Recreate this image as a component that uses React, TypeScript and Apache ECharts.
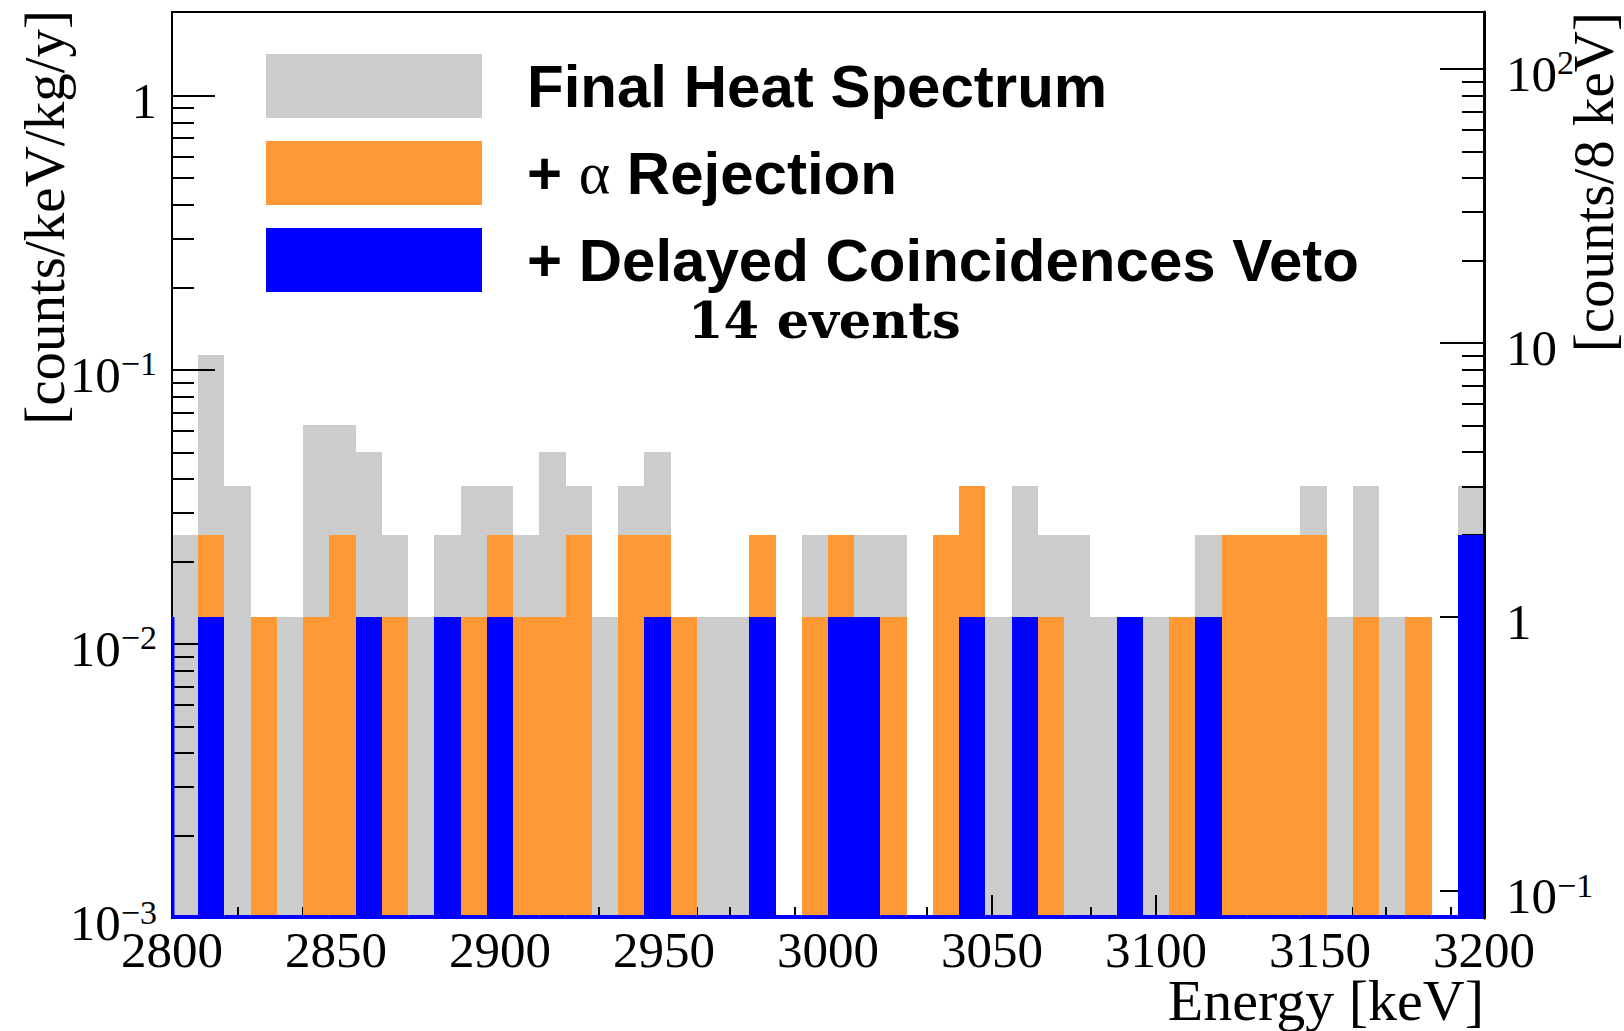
import React, { useEffect, useRef } from 'react';
import * as echarts from 'echarts';

// Energy binning (keV)
const E_MIN = 2800;
const E_MAX = 3200;
const BIN_WIDTH = 8;

// counts per 8 keV bin, 50 bins from 2800 to 3200 keV
const heatCounts = [2, 9, 3, 1, 1, 5, 5, 4, 2, 1, 2, 3, 3, 2, 4, 3, 1, 3, 4, 1, 1, 1, 2, 0, 2, 2, 2, 2, 0, 2, 3, 1, 3, 2, 2, 1, 1, 1, 1, 2, 2, 2, 2, 3, 1, 3, 1, 1, 0, 3];
const alphaCounts = [0, 2, 0, 1, 0, 1, 2, 1, 1, 0, 1, 1, 2, 1, 1, 2, 0, 2, 2, 1, 0, 0, 2, 0, 1, 2, 1, 1, 0, 2, 3, 0, 1, 1, 0, 0, 1, 0, 1, 1, 2, 2, 2, 2, 0, 1, 0, 1, 0, 2];
const vetoCounts = [0, 1, 0, 0, 0, 0, 0, 1, 0, 0, 1, 0, 1, 0, 0, 0, 0, 0, 1, 0, 0, 0, 1, 0, 0, 1, 1, 0, 0, 0, 1, 0, 1, 0, 0, 0, 1, 0, 0, 1, 0, 0, 0, 0, 0, 0, 0, 0, 0, 2];

const seriesNames = ['Final Heat Spectrum', '+ α Rejection', '+ Delayed Coincidences Veto'];
const seriesColors = ['#cccccc', '#fe9935', '#0000ff'];
const annotation = '14 events';

// axis scales
const RATE_PER_COUNT = 0.01253; // counts/keV/kg/y corresponding to 1 count / 8 keV
const LEFT_MIN = 0.001;
const LEFT_MAX = 2.02;
const RIGHT_MIN = LEFT_MIN / RATE_PER_COUNT;
const RIGHT_MAX = LEFT_MAX / RATE_PER_COUNT;
const leftMajor = [0.001, 0.01, 0.1, 1];
const rightMajor = [0.1, 1, 10, 100];
const xTitle = 'Energy [keV]';
const leftTitle = '[counts/keV/kg/y]';
const rightTitle = '[counts/8 keV]';

const SERIF = "'Liberation Serif', 'Times New Roman', serif";
const SANS = "'Liberation Sans', Arial, sans-serif";

function minorTicks(min: number, max: number): number[] {
  const out: number[] = [];
  for (let e = -4; e <= 3; e++) {
    for (let m = 2; m <= 9; m++) {
      const v = Number((m * Math.pow(10, e)).toPrecision(6));
      if (v > min && v < max * 0.99) out.push(v);
    }
  }
  return out;
}

function powLabel(v: number): string {
  const e = Math.round(Math.log10(v));
  if (e === 0) return '{b|1}';
  if (e === 1) return '{b|10}';
  return `{b|10}{s|${e < 0 ? '\u2212' : ''}${Math.abs(e)}}`;
}

const labelRich = {
  b: { fontSize: 51, fontFamily: SERIF, color: '#000', lineHeight: 60, padding: [10, 0, 0, 0] },
  s: { fontSize: 34, fontFamily: SERIF, color: '#000', verticalAlign: 'top', lineHeight: 36, padding: [7, 0, 0, 0] },
};

function binData(counts: number[]) {
  return counts.map((c, i) => [E_MIN + i * BIN_WIDTH, E_MIN + (i + 1) * BIN_WIDTH, c]);
}

function makeRender(color: string, outline: boolean) {
  return (params: any, api: any) => {
    const lo = api.value(0);
    const hi = api.value(1);
    const c = api.value(2);
    const children: any[] = [];
    const base0 = api.coord([lo, RIGHT_MIN]);
    const base1 = api.coord([hi, RIGHT_MIN]);
    if (c > 0) {
      const top = api.coord([lo, c]);
      const x0 = Math.round(top[0]);
      const x1 = Math.round(base1[0]);
      const y0 = Math.round(top[1]);
      const y1 = Math.round(base1[1]);
      children.push({
        type: 'rect',
        shape: { x: x0, y: y0, width: x1 - x0, height: y1 - y0 },
        style: { fill: color },
      });
    }
    if (outline) {
      children.push({
        type: 'line',
        shape: { x1: base0[0], y1: base0[1] - 1, x2: base1[0], y2: base1[1] - 1 },
        style: { stroke: color, lineWidth: 4 },
      });
      if (params.dataIndex === 0) {
        const up = api.coord([lo, 1]);
        children.push({
          type: 'line',
          shape: { x1: up[0] + 1, y1: up[1], x2: base0[0] + 1, y2: base0[1] },
          style: { stroke: color, lineWidth: 3 },
        });
      }
    }
    return { type: 'group', children };
  };
}

function buildOption() {
  const logAxisBase = { type: 'log', logBase: 10, splitLine: { show: false }, minorTick: { show: false } };
  return {
    animation: false,
    backgroundColor: '#ffffff',
    grid: {
      left: 172,
      right: 140,
      top: 12,
      bottom: 113,
      show: true,
      borderColor: '#000',
      borderWidth: 2,
      backgroundColor: 'transparent',
      containLabel: false,
      outerBoundsMode: 'none',
    },
    legend: {
      show: true,
      orient: 'vertical',
      left: 261,
      top: 49,
      itemWidth: 216,
      itemHeight: 64,
      itemGap: 23,
      icon: 'rect',
      selectedMode: false,
      data: seriesNames,
      formatter: (name: string) => name.replace('α', '{a|α}'),
      textStyle: {
        fontFamily: SANS,
        fontWeight: 'bold',
        fontSize: 60,
        lineHeight: 64,
        color: '#000',
        padding: [0, 0, 0, 40],
        rich: {
          a: { fontFamily: SERIF, fontWeight: 'normal', fontSize: 60, lineHeight: 64, color: '#000' },
        },
      },
    },
    xAxis: {
      type: 'value',
      min: E_MIN,
      max: E_MAX,
      interval: 50,
      z: 3,
      axisLine: { show: true, lineStyle: { color: '#000', width: 2 } },
      axisTick: { show: true, inside: true, length: 23, lineStyle: { color: '#000', width: 2 } },
      minorTick: { show: true, splitNumber: 5, length: 11, lineStyle: { color: '#000', width: 2 } },
      splitLine: { show: false },
      minorSplitLine: { show: false },
      axisLabel: {
        show: true,
        margin: 6,
        fontSize: 51,
        fontFamily: SERIF,
        color: '#000',
        formatter: (v: number) => String(v),
      },
    },
    yAxis: [
      {
        ...logAxisBase,
        position: 'left',
        min: LEFT_MIN,
        max: LEFT_MAX,
        z: 3,
        axisLine: { show: true, lineStyle: { color: '#000', width: 2 } },
        axisTick: { show: true, inside: true, length: 43, customValues: leftMajor, lineStyle: { color: '#000', width: 2 } },
        axisLabel: { show: true, margin: 15, customValues: leftMajor, formatter: powLabel, rich: labelRich },
      },
      {
        ...logAxisBase,
        position: 'left',
        min: LEFT_MIN,
        max: LEFT_MAX,
        z: 3,
        axisLine: { show: false },
        axisTick: { show: true, inside: true, length: 22, customValues: minorTicks(LEFT_MIN, LEFT_MAX), lineStyle: { color: '#000', width: 2 } },
        axisLabel: { show: false },
      },
      {
        ...logAxisBase,
        position: 'right',
        min: RIGHT_MIN,
        max: RIGHT_MAX,
        z: 3,
        axisLine: { show: false },
        axisTick: { show: true, inside: true, length: 44, customValues: rightMajor, lineStyle: { color: '#000', width: 2 } },
        axisLabel: { show: true, margin: 22, customValues: rightMajor, formatter: powLabel, rich: labelRich },
      },
      {
        ...logAxisBase,
        position: 'right',
        min: RIGHT_MIN,
        max: RIGHT_MAX,
        z: 3,
        axisLine: { show: false },
        axisTick: { show: true, inside: true, length: 22, customValues: minorTicks(RIGHT_MIN, RIGHT_MAX), lineStyle: { color: '#000', width: 2 } },
        axisLabel: { show: false },
      },
      {
        ...logAxisBase,
        position: 'right',
        min: RIGHT_MIN,
        max: RIGHT_MAX,
        z: 6,
        axisLine: { show: true, lineStyle: { color: '#000', width: 3 } },
        axisTick: { show: false },
        axisLabel: { show: false },
      },
    ],
    series: [
      {
        type: 'custom',
        name: seriesNames[0],
        coordinateSystem: 'cartesian2d',
        xAxisIndex: 0,
        yAxisIndex: 2,
        z: 2,
        itemStyle: { color: seriesColors[0] },
        encode: { x: [0, 1], y: 2 },
        data: binData(heatCounts).filter((d) => d[2] > 0),
        renderItem: makeRender(seriesColors[0], false),
      },
      {
        type: 'custom',
        name: seriesNames[1],
        coordinateSystem: 'cartesian2d',
        xAxisIndex: 0,
        yAxisIndex: 2,
        z: 4,
        itemStyle: { color: seriesColors[1] },
        encode: { x: [0, 1], y: 2 },
        data: binData(alphaCounts).filter((d) => d[2] > 0),
        renderItem: makeRender(seriesColors[1], false),
      },
      {
        type: 'custom',
        name: seriesNames[2],
        coordinateSystem: 'cartesian2d',
        xAxisIndex: 0,
        yAxisIndex: 2,
        z: 5,
        itemStyle: { color: seriesColors[2] },
        encode: { x: [0, 1], y: 2 },
        data: binData(vetoCounts),
        renderItem: makeRender(seriesColors[2], true),
      },
    ],
    graphic: [
      {
        type: 'text',
        x: 688,
        y: 320,
        z: 10,
        style: { text: annotation, fontFamily: "'DejaVu Serif', serif", fontWeight: 'bold', fontSize: 51, fill: '#000', align: 'left', verticalAlign: 'middle' },
      },
      {
        type: 'text',
        x: 1484,
        y: 1000,
        z: 10,
        style: { text: xTitle, fontFamily: SERIF, fontSize: 58, fill: '#000', align: 'right', verticalAlign: 'middle' },
      },
      {
        type: 'text',
        x: 44,
        y: 10,
        rotation: Math.PI / 2,
        z: 10,
        style: { text: leftTitle, fontFamily: SERIF, fontSize: 57, fill: '#000', align: 'right', verticalAlign: 'middle' },
      },
      {
        type: 'text',
        x: 1593,
        y: 12,
        rotation: Math.PI / 2,
        z: 10,
        style: { text: rightTitle, fontFamily: SERIF, fontSize: 57, fill: '#000', align: 'right', verticalAlign: 'middle' },
      },
    ],
  };
}

export default function App() {
  const ref = useRef<HTMLDivElement>(null);
  useEffect(() => {
    if (!ref.current) return;
    const chart = echarts.init(ref.current, undefined, { renderer: 'svg' });
    chart.setOption(buildOption() as any);
    return () => {
      chart.dispose();
    };
  }, []);
  return (
    <div
      ref={ref}
      style={{ position: 'fixed', left: 0, top: 0, width: 1624, height: 1031, background: '#fff' }}
    />
  );
}
